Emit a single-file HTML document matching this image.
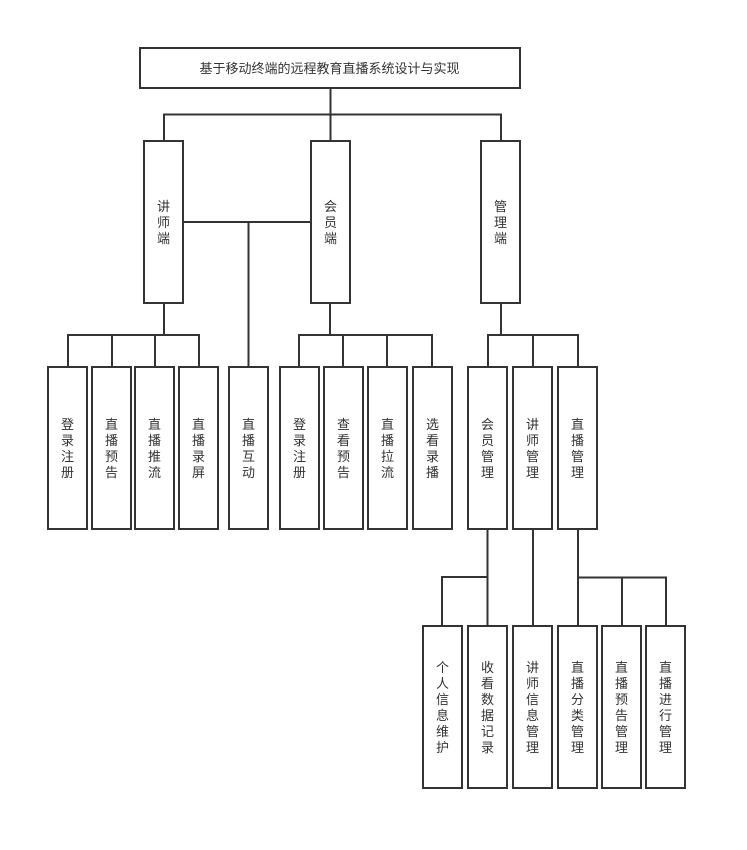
<!DOCTYPE html>
<html lang="zh">
<head>
<meta charset="utf-8">
<title>基于移动终端的远程教育直播系统设计与实现</title>
<style>
html,body{margin:0;padding:0;background:#fff;width:747px;height:850px;overflow:hidden}
svg{display:block}
rect{fill:#fff;stroke:#333;stroke-width:2}
path{fill:none;stroke:#333;stroke-width:2}
text{font-family:"Liberation Sans","WenQuanYi Zen Hei","Noto Sans CJK SC",sans-serif;font-size:13px;fill:#333;text-anchor:middle;transform:translateX(-0.5px)}
</style>
</head>
<body>
<svg width="747" height="850" viewBox="0 0 747 850" xmlns="http://www.w3.org/2000/svg">
<path d="M330.5 88V141M164 141V114.500H501V141"/>
<path d="M164 303V335M68 367V335H199V367M112 335V367M155 335V367"/>
<path d="M183 222H311M248.500 222V367"/>
<path d="M330 303V335M299 367V335H432V367M343 335V367M387 335V367"/>
<path d="M501 303V335M488 367V335H578V367M533 335V367"/>
<path d="M487.500 529V577H442V626M487.500 577V626"/>
<path d="M533 529V626"/>
<path d="M578 529V626M578 577.500H666V626M622 577.500V626"/>

<rect x="140" y="48" width="380" height="40"/>
<text x="330" y="73">基于移动终端的远程教育直播系统设计与实现</text>

<rect x="144" y="141" width="39" height="162"/>
<text><tspan x="164" y="211">讲</tspan><tspan x="164" y="227">师</tspan><tspan x="164" y="243">端</tspan></text>
<rect x="311" y="141" width="39" height="162"/>
<text><tspan x="331" y="211">会</tspan><tspan x="331" y="227">员</tspan><tspan x="331" y="243">端</tspan></text>
<rect x="481" y="141" width="39" height="162"/>
<text><tspan x="501" y="211">管</tspan><tspan x="501" y="227">理</tspan><tspan x="501" y="243">端</tspan></text>

<rect x="48" y="367" width="39" height="162"/>
<text><tspan x="68" y="429">登</tspan><tspan x="68" y="445">录</tspan><tspan x="68" y="461">注</tspan><tspan x="68" y="477">册</tspan></text>
<rect x="92" y="367" width="39" height="162"/>
<text><tspan x="112" y="429">直</tspan><tspan x="112" y="445">播</tspan><tspan x="112" y="461">预</tspan><tspan x="112" y="477">告</tspan></text>
<rect x="135" y="367" width="39" height="162"/>
<text><tspan x="155" y="429">直</tspan><tspan x="155" y="445">播</tspan><tspan x="155" y="461">推</tspan><tspan x="155" y="477">流</tspan></text>
<rect x="179" y="367" width="39" height="162"/>
<text><tspan x="199" y="429">直</tspan><tspan x="199" y="445">播</tspan><tspan x="199" y="461">录</tspan><tspan x="199" y="477">屏</tspan></text>
<rect x="229" y="367" width="39" height="162"/>
<text><tspan x="249" y="429">直</tspan><tspan x="249" y="445">播</tspan><tspan x="249" y="461">互</tspan><tspan x="249" y="477">动</tspan></text>
<rect x="280" y="367" width="39" height="162"/>
<text><tspan x="300" y="429">登</tspan><tspan x="300" y="445">录</tspan><tspan x="300" y="461">注</tspan><tspan x="300" y="477">册</tspan></text>
<rect x="324" y="367" width="39" height="162"/>
<text><tspan x="344" y="429">查</tspan><tspan x="344" y="445">看</tspan><tspan x="344" y="461">预</tspan><tspan x="344" y="477">告</tspan></text>
<rect x="368" y="367" width="39" height="162"/>
<text><tspan x="388" y="429">直</tspan><tspan x="388" y="445">播</tspan><tspan x="388" y="461">拉</tspan><tspan x="388" y="477">流</tspan></text>
<rect x="413" y="367" width="39" height="162"/>
<text><tspan x="433" y="429">选</tspan><tspan x="433" y="445">看</tspan><tspan x="433" y="461">录</tspan><tspan x="433" y="477">播</tspan></text>
<rect x="468" y="367" width="39" height="162"/>
<text><tspan x="488" y="429">会</tspan><tspan x="488" y="445">员</tspan><tspan x="488" y="461">管</tspan><tspan x="488" y="477">理</tspan></text>
<rect x="513" y="367" width="39" height="162"/>
<text><tspan x="533" y="429">讲</tspan><tspan x="533" y="445">师</tspan><tspan x="533" y="461">管</tspan><tspan x="533" y="477">理</tspan></text>
<rect x="558" y="367" width="39" height="162"/>
<text><tspan x="578" y="429">直</tspan><tspan x="578" y="445">播</tspan><tspan x="578" y="461">管</tspan><tspan x="578" y="477">理</tspan></text>

<rect x="423" y="626" width="39" height="162"/>
<text><tspan x="443" y="672">个</tspan><tspan x="443" y="688">人</tspan><tspan x="443" y="704">信</tspan><tspan x="443" y="720">息</tspan><tspan x="443" y="736">维</tspan><tspan x="443" y="752">护</tspan></text>
<rect x="468" y="626" width="39" height="162"/>
<text><tspan x="488" y="672">收</tspan><tspan x="488" y="688">看</tspan><tspan x="488" y="704">数</tspan><tspan x="488" y="720">据</tspan><tspan x="488" y="736">记</tspan><tspan x="488" y="752">录</tspan></text>
<rect x="513" y="626" width="39" height="162"/>
<text><tspan x="533" y="672">讲</tspan><tspan x="533" y="688">师</tspan><tspan x="533" y="704">信</tspan><tspan x="533" y="720">息</tspan><tspan x="533" y="736">管</tspan><tspan x="533" y="752">理</tspan></text>
<rect x="558" y="626" width="39" height="162"/>
<text><tspan x="578" y="672">直</tspan><tspan x="578" y="688">播</tspan><tspan x="578" y="704">分</tspan><tspan x="578" y="720">类</tspan><tspan x="578" y="736">管</tspan><tspan x="578" y="752">理</tspan></text>
<rect x="602" y="626" width="39" height="162"/>
<text><tspan x="622" y="672">直</tspan><tspan x="622" y="688">播</tspan><tspan x="622" y="704">预</tspan><tspan x="622" y="720">告</tspan><tspan x="622" y="736">管</tspan><tspan x="622" y="752">理</tspan></text>
<rect x="646" y="626" width="39" height="162"/>
<text><tspan x="666" y="672">直</tspan><tspan x="666" y="688">播</tspan><tspan x="666" y="704">进</tspan><tspan x="666" y="720">行</tspan><tspan x="666" y="736">管</tspan><tspan x="666" y="752">理</tspan></text>
</svg>
</body>
</html>
